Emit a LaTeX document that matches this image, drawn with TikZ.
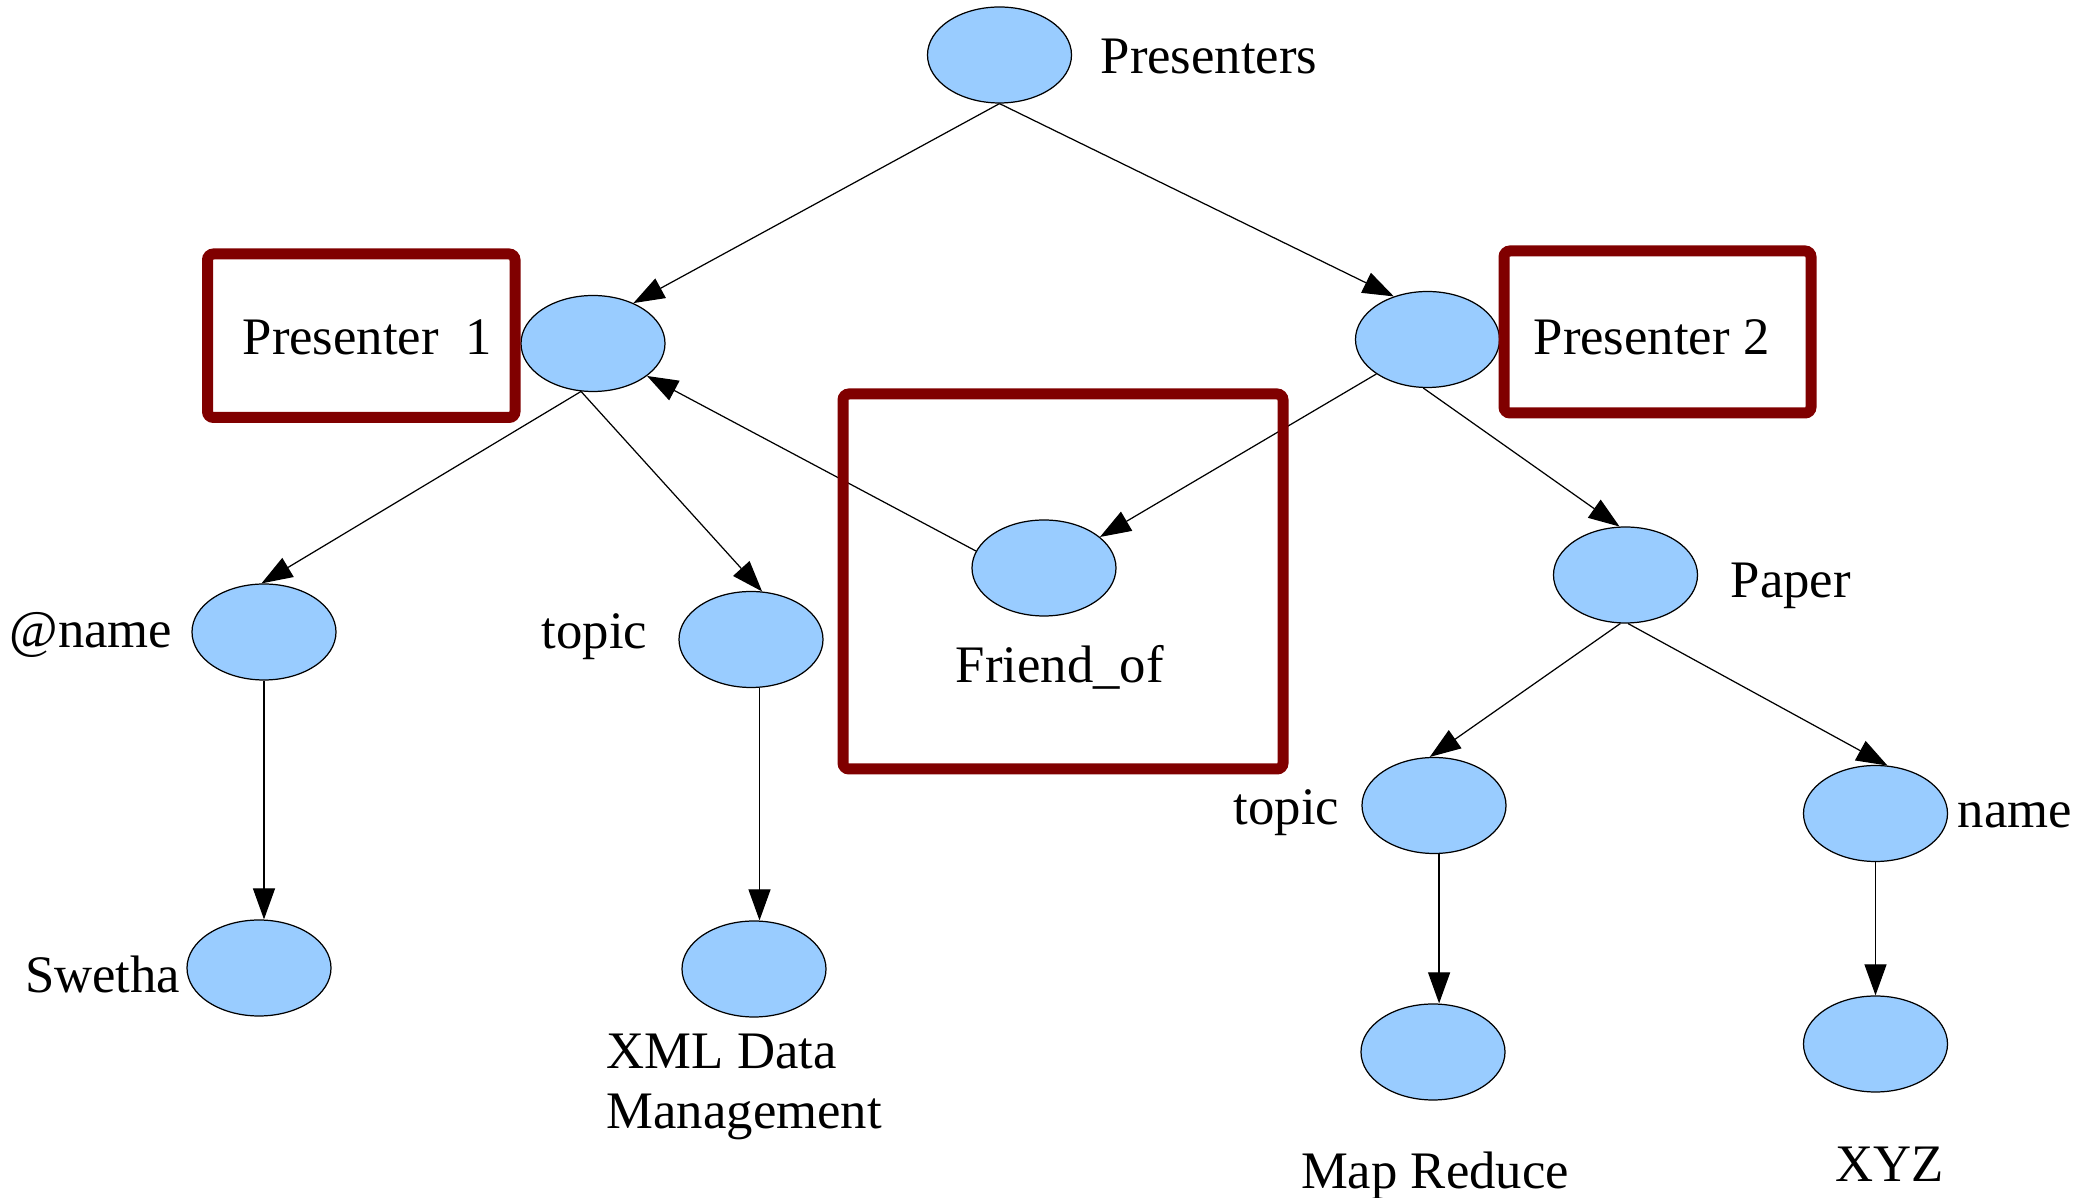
\documentclass[tikz,border=0pt]{standalone}
\usepackage{fontspec}
\setmainfont{Liberation Serif}
\usetikzlibrary{shapes.geometric,arrows.meta}
\definecolor{nodeblue}{RGB}{153,204,255}
\definecolor{boxred}{RGB}{128,0,0}
\pgfdeclarelayer{edgelayer}
\pgfdeclarelayer{framelayer}
\pgfsetlayers{edgelayer,main,framelayer}
\begin{document}
\begin{tikzpicture}[x=0.1mm,y=-0.1mm,
  elem/.style={ellipse,draw=black,line width=0.35pt,fill=nodeblue,
    minimum width=14.4mm,minimum height=9.6mm,inner sep=0pt},
  lbl/.style={inner sep=0pt,font=\fontsize{15}{17}\selectfont},
  edge/.style={line width=0.35pt,-{Triangle[length=3.1mm,width=2.2mm]}},
  hilite/.style={draw=boxred,line width=1.1mm,rounded corners=0.6mm,inner sep=0pt}]
\useasboundingbox (0,0) rectangle (2079,1198);

% tree nodes
\node[elem] (pres) at (999.5,55) {};
\node[elem] (p1)   at (593,343.5) {};
\node[elem] (p2)   at (1427.5,339.5) {};
\node[elem] (fr)   at (1044,568) {};
\node[elem] (anm)  at (264,632) {};
\node[elem] (t1)   at (751,639.5) {};
\node[elem] (sw)   at (259,968) {};
\node[elem] (xml)  at (754,969) {};
\node[elem] (pap)  at (1625.5,575) {};
\node[elem] (t2)   at (1434,805.5) {};
\node[elem] (n2)   at (1875.5,813.5) {};
\node[elem] (mr)   at (1433,1052) {};
\node[elem] (xyz)  at (1875.5,1044) {};

% labels
\node[lbl,anchor=base west] (tpres) at (1100,74) {Presenters};
\node[lbl,anchor=base west] (tp1)   at (242,355) {Presenter\ \ 1};
\node[lbl,anchor=base west] (tp2)   at (1533,355) {Presenter 2};
\node[lbl,anchor=base west] (tfr)   at (955,683) {Friend\_of};
\node[lbl,anchor=base east] (tanm)  at (173,648) {@name};
\node[lbl,anchor=base east] (tt1)   at (648,649) {topic};
\node[lbl,anchor=base east] (tsw)   at (181,993) {Swetha};
\node[lbl,anchor=base west] (txmla) at (606,1069) {XML Data};
\node[lbl,anchor=base west] (txmlb) at (606,1128) {Management};
\node[lbl,anchor=base west] (tpap)  at (1730,598) {Paper};
\node[lbl,anchor=base east] (tt2)   at (1340,825) {topic};
\node[lbl,anchor=base west] (tn2)   at (1957,828) {name};
\node[lbl,anchor=base]      (tmr)   at (1435,1188) {Map Reduce};
\node[lbl,anchor=base]      (txyz)  at (1890,1181) {XYZ};

% connectors, behind the ellipses
\begin{pgfonlayer}{edgelayer}
\draw[edge] (pres.south) -- (p1.45);
\draw[edge] (pres.south) -- (p2.128);
\draw[edge] (p1.256) -- (anm.93);
\draw[edge] (p1.256) -- (t1.77);
\draw[edge] (fr.166) -- (p1.-31);
\draw[edge] (p2.214) -- (fr.29);
\draw[edge] (p2.265) -- (pap.97);
\draw[edge] (anm.south) -- (anm.south |- sw.north);
\draw[edge] (t1.280) -- (t1.280 |- xml.north);
\draw[edge] (pap.264) -- (t2.95);
\draw[edge] (pap.273) -- (n2.76);
\draw[edge] (t2.276) -- (t2.276 |- mr.north);
\draw[edge] (n2.south) -- (xyz.north);
\end{pgfonlayer}

% highlight frames on top
\begin{pgfonlayer}{framelayer}
\node[hilite,minimum width=30.75mm,minimum height=16.35mm] (box1) at (361.25,335.75) {};
\node[hilite,minimum width=44mm,minimum height=37.5mm] (boxfr) at (1063,581.5) {};
\node[hilite,minimum width=30.7mm,minimum height=16.2mm] (box2) at (1657.5,332) {};
\end{pgfonlayer}
\end{tikzpicture}
\end{document}
